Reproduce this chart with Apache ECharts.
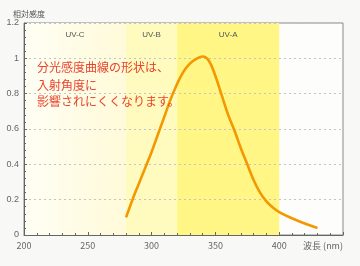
<!DOCTYPE html>
<html><head><meta charset="utf-8">
<script src="https://cdn.jsdelivr.net/npm/echarts@6/dist/echarts.min.js"></script>
<style>html,body{margin:0;padding:0;background:#f8f8f6;}#c{width:360px;height:266px;}</style>
</head><body><div id="c"></div>
<script>
var wavelengths = [280,285,290,295,300,305,310,315,320,325,330,335,340,345,350,355,360,365,370,375,380,385,390,395,400,410,420,430];
var sensitivity = [0.10,0.20,0.29,0.38,0.47,0.57,0.67,0.77,0.855,0.925,0.97,0.997,1.01,0.985,0.90,0.79,0.68,0.59,0.49,0.40,0.31,0.24,0.19,0.155,0.13,0.095,0.065,0.04];
var bands = [
  {name:'UV-C', from:200, to:280},
  {name:'UV-B', from:280, to:320},
  {name:'UV-A', from:320, to:400}
];
var yTicks = [0,0.2,0.4,0.6,0.8,1,1.2];
var xLabelLast = '波長 (nm)';
var yTitle = '相対感度';
var note = ['分光感度曲線の形状は、','入射角度に','影響されにくくなります。'];

var bandColors = {
  'UV-C': new echarts.graphic.LinearGradient(0,0,1,0,[{offset:0,color:'#fffef4'},{offset:1,color:'#fffad8'}]),
  'UV-B': '#fffbbf',
  'UV-A': '#fff685'
};
var chart = echarts.init(document.getElementById('c'));
chart.setOption({
  backgroundColor:'#f8f8f6',
  animation:false,
  title:{text:yTitle,left:8,top:5,textStyle:{fontSize:8,fontWeight:'normal',color:'#555',fontFamily:'Noto Sans CJK JP'}},
  grid:{left:24,right:17,top:23,bottom:31,show:true,backgroundColor:'#fdfdfc',borderColor:'#888',borderWidth:1},
  xAxis:{type:'value',min:200,max:450,interval:50,z:3,
    axisLine:{lineStyle:{color:'#666'}},
    axisTick:{inside:true,length:3,lineStyle:{color:'#666'}},
    minorTick:{show:true,splitNumber:5,length:2,lineStyle:{color:'#666'}},
    splitLine:{show:false},
    axisLabel:{fontSize:9,color:'#666',margin:6,alignMaxLabel:'right',fontFamily:'Noto Sans CJK JP',
      formatter:function(v){return v===450?xLabelLast:String(v);}}},
  yAxis:{type:'value',min:0,max:1.2,interval:0.2,z:3,
    axisLine:{show:true,lineStyle:{color:'#666'}},
    axisTick:{show:true,inside:true,length:3,lineStyle:{color:'#666'}},
    minorTick:{show:true,splitNumber:5,length:2,lineStyle:{color:'#666'}},
    splitLine:{show:true,lineStyle:{color:'#c4c4c4',type:[2,3]}},
    axisLabel:{fontSize:9,color:'#666',margin:5,
      formatter:function(v){var i=yTicks.indexOf(Math.round(v*10)/10);return i>=0?String(yTicks[i]):'';}}},
  series:[
    {type:'line',data:[],z:1,silent:true,
      markArea:{silent:true,
        label:{position:'insideTop',distance:8,fontSize:8,color:'#555'},
        data:bands.map(function(b){return [{name:b.name,xAxis:b.from,itemStyle:{color:bandColors[b.name]}},{xAxis:b.to}];})}},
    {type:'line',data:wavelengths.map(function(x,i){return [x,sensitivity[i]];}),
    smooth:0.4,showSymbol:false,lineStyle:{color:'#f39800',width:2.6},z:5}
  ],
  graphic:note.map(function(t,i){return {type:'text',left:37,top:[61,79,95][i],z:10,
    style:{text:t,fontSize:12,fill:'#e8442c',fontFamily:'Noto Sans CJK JP'}};})
});
</script></body></html>
